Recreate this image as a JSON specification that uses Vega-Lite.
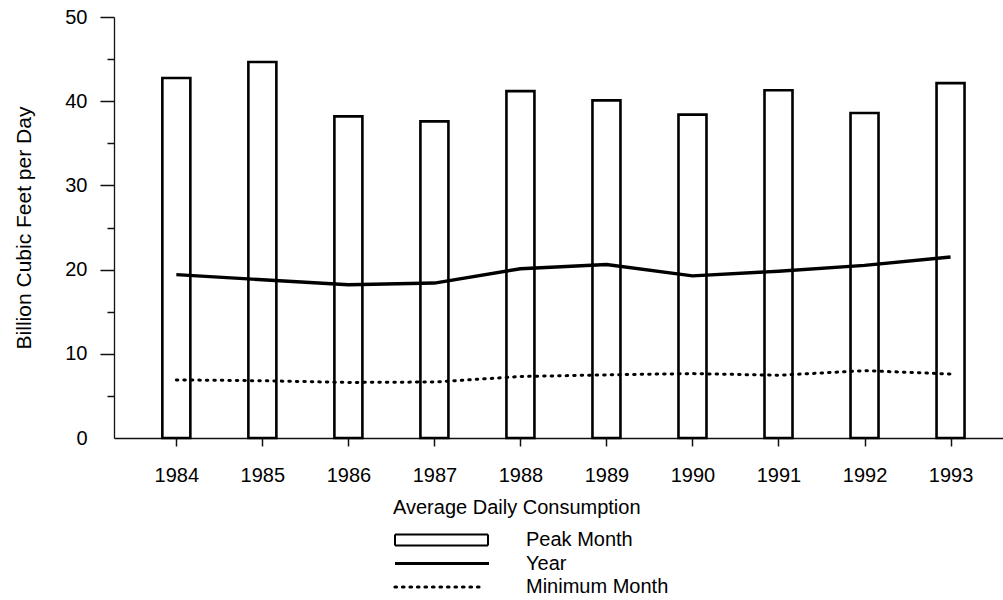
{
  "$schema": "https://vega.github.io/schema/vega-lite/v6.json",
  "width": 889,
  "height": 421,
  "autosize": {"type": "none"},
  "padding": {"left": 114, "top": 17, "right": 0, "bottom": 162},
  "background": "white",
  "config": {
    "view": {"stroke": null},
    "font": "Liberation Sans",
    "axis": {
      "labelFont": "Liberation Sans",
      "titleFont": "Liberation Sans",
      "labelFontSize": 20,
      "titleFontSize": 21,
      "titleFontWeight": "normal",
      "labelColor": "#000",
      "titleColor": "#000",
      "domainColor": "#111",
      "tickColor": "#111",
      "domainWidth": 1.3,
      "tickWidth": 1.5,
      "grid": false
    },
    "legend": {
      "labelFont": "Liberation Sans",
      "titleFont": "Liberation Sans"
    }
  },
  "data": {
    "values": [
      {"year": 1984, "series": "Peak Month", "value": 42.75},
      {"year": 1985, "series": "Peak Month", "value": 44.65},
      {"year": 1986, "series": "Peak Month", "value": 38.2},
      {"year": 1987, "series": "Peak Month", "value": 37.6},
      {"year": 1988, "series": "Peak Month", "value": 41.2},
      {"year": 1989, "series": "Peak Month", "value": 40.1},
      {"year": 1990, "series": "Peak Month", "value": 38.4},
      {"year": 1991, "series": "Peak Month", "value": 41.3},
      {"year": 1992, "series": "Peak Month", "value": 38.6},
      {"year": 1993, "series": "Peak Month", "value": 42.15},
      {"year": 1984, "series": "Year", "value": 19.4},
      {"year": 1985, "series": "Year", "value": 18.8},
      {"year": 1986, "series": "Year", "value": 18.2},
      {"year": 1987, "series": "Year", "value": 18.4},
      {"year": 1988, "series": "Year", "value": 20.1},
      {"year": 1989, "series": "Year", "value": 20.6},
      {"year": 1990, "series": "Year", "value": 19.25},
      {"year": 1991, "series": "Year", "value": 19.8},
      {"year": 1992, "series": "Year", "value": 20.5},
      {"year": 1993, "series": "Year", "value": 21.5},
      {"year": 1984, "series": "Minimum Month", "value": 6.9},
      {"year": 1985, "series": "Minimum Month", "value": 6.8},
      {"year": 1986, "series": "Minimum Month", "value": 6.6},
      {"year": 1987, "series": "Minimum Month", "value": 6.65},
      {"year": 1988, "series": "Minimum Month", "value": 7.3},
      {"year": 1989, "series": "Minimum Month", "value": 7.5},
      {"year": 1990, "series": "Minimum Month", "value": 7.65},
      {"year": 1991, "series": "Minimum Month", "value": 7.45},
      {"year": 1992, "series": "Minimum Month", "value": 8.0},
      {"year": 1993, "series": "Minimum Month", "value": 7.6}
    ]
  },
  "encoding": {
    "x": {
      "field": "year",
      "type": "quantitative",
      "scale": {"domain": [1983.3333, 1993.5517], "nice": false, "zero": false},
      "axis": {
        "values": [1984, 1985, 1986, 1987, 1988, 1989, 1990, 1991, 1992, 1993],
        "format": "d",
        "title": null,
        "tickSize": 8,
        "labelPadding": 19,
        "labelFlush": false,
        "labelOverlap": false
      }
    },
    "y": {
      "field": "value",
      "type": "quantitative",
      "scale": {"domain": [0, 50], "nice": false},
      "axis": {
        "values": [0, 5, 10, 15, 20, 25, 30, 35, 40, 45, 50],
        "labelExpr": "datum.value % 10 === 0 ? datum.label : ''",
        "title": "Billion Cubic Feet per Day",
        "titlePadding": 30,
        "tickSize": 14,
        "tickDash": {"condition": {"test": "datum.value % 10 !== 0", "value": [7, 20]}, "value": [1, 0]},
        "labelPadding": 13,
        "labelOverlap": false,
        "labelFlush": false,
        "tickColor": {"condition": {"test": "datum.value === 0", "value": "transparent"}, "value": "#111"}
      }
    },
    "stroke": {
      "field": "series",
      "type": "nominal",
      "scale": {"domain": ["Peak Month", "Year", "Minimum Month"], "range": ["black", "black", "black"]},
      "legend": {
        "title": "Average Daily Consumption",
        "orient": "none",
        "legendX": 279,
        "legendY": 481,
        "direction": "vertical",
        "padding": 0,
        "titleFontSize": 20,
        "titleFontWeight": "normal",
        "titleColor": "#000",
        "titleLimit": 500,
        "titlePadding": 12,
        "labelFontSize": 20,
        "labelColor": "#000",
        "labelLimit": 400,
        "labelOffset": 121,
        "symbolOffset": -8,
        "symbolSize": 100,
        "symbolStrokeWidth": 2.5,
        "rowPadding": 3.5,
        "encode": {
          "symbols": {
            "update": {
              "shape": {"signal": "datum.value === 'Peak Month' ? 'M0,-1.1H18.6V1.1H0Z' : (datum.value === 'Year' ? 'M0,0H18.8' : 'M0,0H17.8')"},
              "fill": {"value": "white"},
              "fillOpacity": {"value": 1},
              "stroke": {"value": "black"},
              "strokeWidth": {"signal": "datum.value === 'Peak Month' ? 2 : 3.2"},
              "strokeDash": {"signal": "datum.value === 'Minimum Month' ? [1.5, 6] : [1, 0]"},
              "strokeCap": {"signal": "datum.value === 'Minimum Month' ? 'round' : 'butt'"},
              "opacity": {"value": 1}
            }
          }
        }
      }
    }
  },
  "layer": [
    {
      "transform": [{"filter": "datum.series === 'Peak Month'"}],
      "mark": {"type": "bar", "fill": "white", "fillOpacity": 1, "strokeWidth": 2.6, "width": 28}
    },
    {
      "transform": [{"filter": "datum.series === 'Year'"}],
      "mark": {"type": "line", "strokeWidth": 3.4}
    },
    {
      "transform": [{"filter": "datum.series === 'Minimum Month'"}],
      "mark": {"type": "line", "strokeWidth": 3, "strokeDash": [1.5, 6], "strokeCap": "round"}
    }
  ]
}
